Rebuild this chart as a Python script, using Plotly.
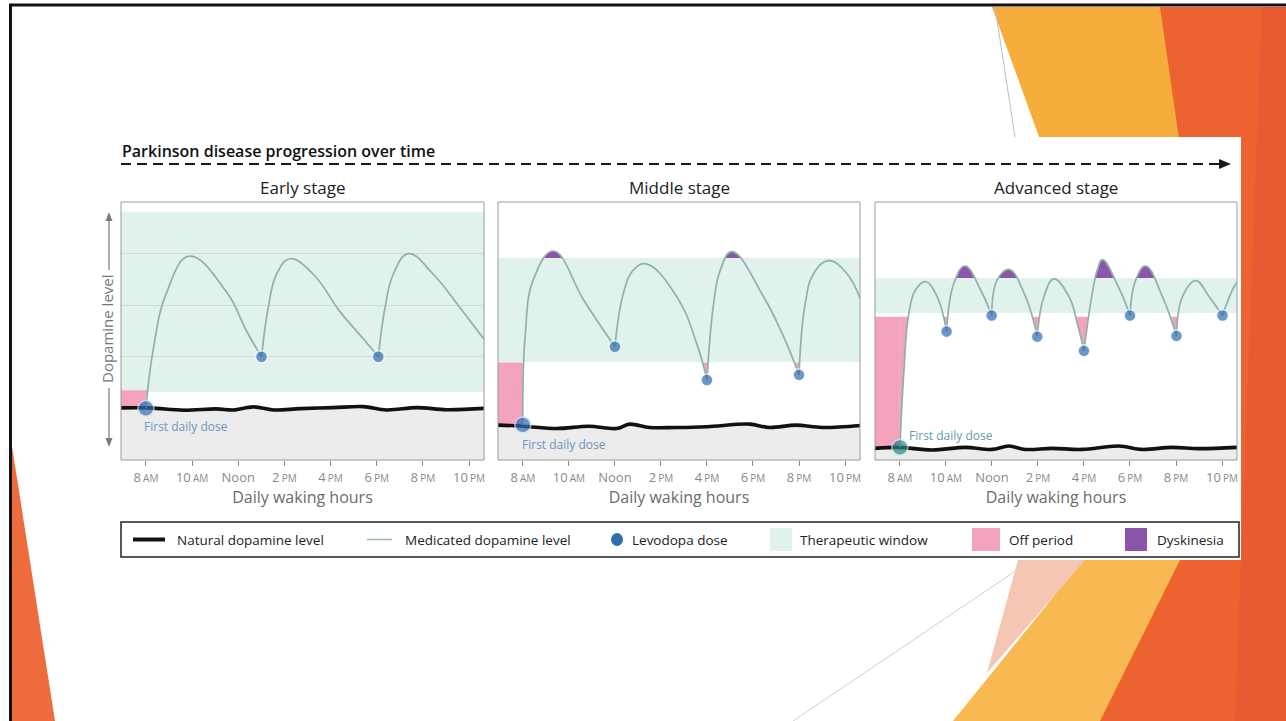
import plotly.graph_objects as go

W, H = 1286, 721

# ---------------- data ----------------
stage_titles = ["Early stage", "Middle stage", "Advanced stage"]
tick_hours = [8, 10, 12, 14, 16, 18, 20, 22]
tick_labels = ["8 AM", "10 AM", "Noon", "2 PM", "4 PM", "6 PM", "8 PM", "10 PM"]
hour_range = [6.92, 22.65]
level_range = [0, 100]
grid_levels = [20, 40, 60, 80]

window_low = [26.4, 38.0, 57.0]
window_high = [96.0, 78.3, 70.5]
off_threshold = [27.0, 37.8, 55.5]
dysk_threshold = [None, 78.3, 70.5]

# medicated dopamine level (segments between doses separated by None)
early_hours = [8.0, 8.32, 8.9, 9.88, 11.5, 12.36, 13.01, None,
               13.01, 13.3, 13.66, 14.24, 15.25, 16.41, 17.42, 18.07, None,
               18.07, 18.36, 18.72, 19.37, 20.45, 21.61, 22.65]
early_level = [20, 43, 65, 79, 65, 50, 40, None,
               40, 59, 72, 78, 72, 57.5, 47, 40, None,
               40, 59, 72, 80, 72, 59, 46.8]

middle_hours = [8.0, 8.1, 8.46, 9.33, 10.64, 11.5, 12.0, None,
                12.0, 12.37, 12.8, 13.36, 14.69, 15.56, 16.0, None,
                16.0, 16.29, 16.58, 17.08, 18.46, 19.33, 20.0, None,
                20.0, 20.27, 20.64, 21.29, 22.08, 22.65]
middle_level = [13.6, 48, 70, 81, 62, 50.4, 43.9, None,
                43.9, 64.6, 73.6, 76, 63.3, 45, 31, None,
                31, 60.7, 73.6, 80.8, 63.3, 47.8, 33, None,
                33, 60.7, 72.3, 77.3, 72.3, 62.6]

advanced_hours = [8.0, 8.18, 8.39, 8.68, 9.12, 9.62, 10.03, None,
                  10.03, 10.35, 10.83, 11.51, 11.99, None,
                  11.99, 12.23, 12.74, 13.46, 13.97, None,
                  13.97, 14.26, 14.7, 15.35, 15.71, 16.0, None,
                  16.0, 16.36, 16.58, 16.8, 17.5, 18.0, None,
                  18.0, 18.25, 18.68, 19.41, 20.02, None,
                  20.02, 20.28, 20.86, 21.44, 22.02, None,
                  22.02, 22.45, 22.65]
advanced_level = [4.9, 34.9, 56.8, 65.9, 69.1, 63.3, 49.8, None,
                  49.8, 68.5, 75.2, 65.9, 56, None,
                  56, 69.8, 73.9, 63.3, 47.8, None,
                  47.8, 63.3, 70.2, 63.3, 53, 42.3, None,
                  42.3, 64.6, 73.6, 77.7, 67, 56, None,
                  56, 69.8, 75.2, 63.3, 48.1, None,
                  48.1, 63.3, 69.5, 63.3, 56, None,
                  56, 65.9, 68.9]

# levodopa doses
early_dose_hours = [8.0, 13.01, 18.07]
early_dose_level = [20, 40, 40]
middle_dose_hours = [8.0, 12.0, 16.0, 20.0]
middle_dose_level = [13.6, 43.9, 31, 33]
advanced_dose_hours = [8.0, 10.03, 11.99, 13.97, 16.0, 18.0, 20.02, 22.02]
advanced_dose_level = [4.9, 49.8, 56, 47.8, 42.3, 56, 48.1, 56]

# natural dopamine level
early_nat_hours = [6.92, 8.17, 9.62, 11.06, 11.79, 12.65, 13.52, 14.68, 16.12, 17.42, 18.43, 19.73, 21.03, 22.65]
early_nat_level = [20.2, 20.2, 19.3, 19.8, 19.4, 20.6, 19.4, 19.9, 20.3, 20.7, 19.4, 20.3, 19.5, 20.0]
middle_nat_hours = [6.92, 8.03, 9.47, 10.86, 12.07, 12.64, 13.51, 14.67, 16.0, 17.84, 18.71, 19.86, 21.02, 22.65]
middle_nat_level = [13.5, 13.1, 12.2, 13.1, 12.2, 13.9, 12.6, 12.6, 12.9, 13.9, 12.6, 13.5, 12.6, 13.4]
advanced_nat_hours = [6.92, 7.96, 9.4, 10.85, 12.0, 12.73, 13.46, 14.61, 15.92, 17.51, 18.52, 19.83, 20.98, 22.65]
advanced_nat_level = [4.5, 4.9, 3.9, 4.9, 4.1, 5.4, 4.1, 4.5, 4.1, 5.4, 4.1, 4.9, 4.4, 4.9]

legend_labels = ["Natural dopamine level", "Medicated dopamine level", "Levodopa dose",
                 "Therapeutic window", "Off period", "Dyskinesia"]

# ---------------- styling ----------------
FONT = "Open Sans"
PINK = "#f3a3bb"
PURPLE = "#8a55aa"
WINDOW = "#e1f1ec"
GRAYFILL = "#ececec"
CURVE = "#8fb1ac"
DOSE = "#2f6cb2"
SMOOTH = 1.2


def px(x):
    return x / W


def py(y):
    return 1 - y / H


curves = [(early_hours, early_level), (middle_hours, middle_level), (advanced_hours, advanced_level)]
doses = [(early_dose_hours, early_dose_level), (middle_dose_hours, middle_dose_level),
         (advanced_dose_hours, advanced_dose_level)]
naturals = [(early_nat_hours, early_nat_level), (middle_nat_hours, middle_nat_level),
            (advanced_nat_hours, advanced_nat_level)]

panels_px = [(121, 484), (498, 860), (875, 1237)]
top_px, bot_px = 202, 460
yb, yt = py(bot_px), py(top_px)
ph = yt - yb

xnames = ["x", "x2", "x3"]
off_axes = ["y2", "y3", "y4"]
dys_axes = [None, "y5", "y6"]
top_axis = "y7"


def fmt_tick(lbl):
    if lbl.endswith("AM") or lbl.endswith("PM"):
        n, s = lbl.split(" ")
        return f"{n}\u2009<span style='font-size:10px'>{s}</span>"
    return lbl


fig = go.Figure()

for i in range(3):
    xn = xnames[i]
    hrs, lev = curves[i]
    dh, dl = doses[i]
    nh, nl = naturals[i]
    # off period: before first dose
    fig.add_trace(go.Scatter(
        x=[hour_range[0], dh[0], dh[0], hour_range[0]],
        y=[level_range[0], level_range[0], level_range[1], level_range[1]],
        mode="lines", fill="toself", fillcolor=PINK, line=dict(width=0),
        xaxis=xn, yaxis=off_axes[i], hoverinfo="skip", showlegend=False))
    # upper boundary for off fill
    fig.add_trace(go.Scatter(
        x=[dh[0], hour_range[1]], y=[level_range[1], level_range[1]],
        mode="lines", line=dict(width=0), xaxis=xn, yaxis=off_axes[i],
        hoverinfo="skip", showlegend=False))
    fig.add_trace(go.Scatter(
        x=hrs, y=lev, mode="lines", line=dict(width=0, shape="spline", smoothing=SMOOTH),
        fill="tonexty", fillcolor=PINK, connectgaps=False,
        xaxis=xn, yaxis=off_axes[i], hoverinfo="skip", showlegend=False))
    if dys_axes[i]:
        fig.add_trace(go.Scatter(
            x=hrs, y=lev, mode="lines", line=dict(width=0, shape="spline", smoothing=SMOOTH),
            fill="tozeroy", fillcolor=PURPLE, connectgaps=False,
            xaxis=xn, yaxis=dys_axes[i], hoverinfo="skip", showlegend=False))
    # natural level
    fig.add_trace(go.Scatter(
        x=nh, y=nl, mode="lines", line=dict(color="#111111", width=3.6, shape="spline"),
        fill="tozeroy", fillcolor=GRAYFILL, xaxis=xn, yaxis=top_axis,
        name=legend_labels[0], showlegend=False))
    # medicated level
    fig.add_trace(go.Scatter(
        x=hrs, y=lev, mode="lines", line=dict(color=CURVE, width=1.7, shape="spline", smoothing=SMOOTH),
        connectgaps=False, xaxis=xn, yaxis=top_axis, name=legend_labels[1], showlegend=False))
    # doses
    colors = [("#2b8587" if i == 2 else DOSE)] + [DOSE] * (len(dh) - 1)
    sizes = [16] + [12] * (len(dh) - 1)
    lcols = ["#cfe4ee"] + ["rgba(255,255,255,0.85)"] * (len(dh) - 1)
    fig.add_trace(go.Scatter(
        x=dh, y=dl, mode="markers",
        marker=dict(color=colors, size=sizes, line=dict(color=lcols, width=1.6)),
        xaxis=xn, yaxis=top_axis, name=legend_labels[2], showlegend=False))

layout = dict(
    width=W, height=H, margin=dict(l=0, r=0, t=0, b=0),
    paper_bgcolor="white", plot_bgcolor="rgba(0,0,0,0)",
    showlegend=False, font=dict(family=FONT, color="#333"),
)

for i in range(3):
    x0, x1 = panels_px[i]
    key = "xaxis" if i == 0 else f"xaxis{i + 1}"
    layout[key] = dict(
        domain=[px(x0), px(x1)], range=hour_range, anchor="y",
        tickvals=tick_hours, ticktext=[fmt_tick(t) for t in tick_labels],
        ticks="outside", ticklen=5, tickwidth=1, tickcolor="#8a8a8a",
        tickfont=dict(size=13, color="#8a8a8a", family=FONT),
        showgrid=False, zeroline=False, showline=False, fixedrange=True,
        title=dict(text="Daily waking hours", font=dict(size=16, color="#6b6b6b", family=FONT), standoff=6),
    )

layout["yaxis"] = dict(domain=[yb, yt], range=level_range, anchor="x", tickvals=grid_levels,
                       showticklabels=False, ticks="", showgrid=True, gridcolor="#d3dbd9",
                       gridwidth=1, zeroline=False, showline=False, fixedrange=True)
for i in range(3):
    thr = off_threshold[i]
    layout["yaxis" + off_axes[i][1:]] = dict(domain=[yb, yb + ph * thr / 100], range=[0, thr],
                                             anchor=xnames[i], visible=False, fixedrange=True)
    if dys_axes[i]:
        d = dysk_threshold[i]
        layout["yaxis" + dys_axes[i][1:]] = dict(domain=[yb + ph * d / 100, yt], range=[d, 100],
                                                 anchor=xnames[i], visible=False, fixedrange=True)
layout["yaxis7"] = dict(domain=[yb, yt], range=level_range, anchor="x", visible=False, fixedrange=True)


def path(pts):
    return "M " + " L ".join(f"{px(a):.5f},{py(b):.5f}" for a, b in pts) + " Z"


shapes = []
# slide decorations
shapes.append(dict(type="path", xref="paper", yref="paper", layer="below",
                   path=path([(1150, 7), (1286, 7), (1286, 721), (1080, 721)]),
                   fillcolor="#ec6230", line=dict(width=0)))
shapes.append(dict(type="path", xref="paper", yref="paper", layer="below",
                   path=path([(1262, 7), (1286, 7), (1286, 721), (1235, 721)]),
                   fillcolor="#e85a32", line=dict(width=0)))
shapes.append(dict(type="path", xref="paper", yref="paper", layer="below",
                   path=path([(992, 7), (1160, 7), (1195, 250), (1080, 250)]),
                   fillcolor="#f6ad3c", line=dict(width=0)))
shapes.append(dict(type="path", xref="paper", yref="paper", layer="below",
                   path=path([(1083, 560), (1180, 560), (1100, 721), (953, 721)]),
                   fillcolor="#f8b852", line=dict(width=0)))
shapes.append(dict(type="path", xref="paper", yref="paper", layer="below",
                   path=path([(1018, 560), (1085, 560), (987, 673)]),
                   fillcolor="#f6c6b5", line=dict(width=0)))
shapes.append(dict(type="line", xref="paper", yref="paper", layer="below",
                   x0=px(995), y0=py(7), x1=px(1015), y1=py(137), line=dict(color="#bdbdbd", width=1)))
shapes.append(dict(type="line", xref="paper", yref="paper", layer="below",
                   x0=px(1020), y0=py(568), x1=px(793), y1=py(721), line=dict(color="#cfcfcf", width=1)))
shapes.append(dict(type="path", xref="paper", yref="paper", layer="below",
                   path=path([(11, 440), (11, 721), (55, 721)]),
                   fillcolor="#ee6b3e", line=dict(width=0)))
shapes.append(dict(type="line", xref="paper", yref="paper", layer="below",
                   x0=px(9), y0=py(5), x1=px(1286), y1=py(5), line=dict(color="#111", width=3)))
shapes.append(dict(type="line", xref="paper", yref="paper", layer="below",
                   x0=px(10.5), y0=py(4), x1=px(10.5), y1=py(721), line=dict(color="#111", width=3)))
# chart white background
shapes.append(dict(type="rect", xref="paper", yref="paper", layer="below",
                   x0=px(100), y0=py(560), x1=px(1241), y1=py(137), fillcolor="white", line=dict(width=0)))

# therapeutic windows
for i in range(3):
    shapes.append(dict(type="rect", xref=xnames[i], yref="y", layer="below",
                       x0=hour_range[0], x1=hour_range[1], y0=window_low[i], y1=window_high[i],
                       fillcolor=WINDOW, line=dict(width=0)))
# panel borders
for x0, x1 in panels_px:
    shapes.append(dict(type="rect", xref="paper", yref="paper", layer="above",
                       x0=px(x0), x1=px(x1), y0=yb, y1=yt, line=dict(color="#9a9a9a", width=1)))

# header dashed arrow
shapes.append(dict(type="line", xref="paper", yref="paper", x0=px(121), y0=py(164), x1=px(1222), y1=py(164),
                   line=dict(color="#1a1a1a", width=2, dash="10px,6px")))
shapes.append(dict(type="path", xref="paper", yref="paper",
                   path=path([(1219, 159), (1231, 164), (1219, 169)]), fillcolor="#1a1a1a", line=dict(width=0)))

# dopamine level arrows
AX = "#7a7a7a"
shapes.append(dict(type="line", xref="paper", yref="paper", x0=px(109), y0=py(219), x1=px(109), y1=py(270),
                   line=dict(color=AX, width=1.2)))
shapes.append(dict(type="path", xref="paper", yref="paper", path=path([(105.5, 221), (109, 212), (112.5, 221)]),
                   fillcolor=AX, line=dict(width=0)))
shapes.append(dict(type="line", xref="paper", yref="paper", x0=px(109), y0=py(388), x1=px(109), y1=py(440),
                   line=dict(color=AX, width=1.2)))
shapes.append(dict(type="path", xref="paper", yref="paper", path=path([(105.5, 438), (109, 447), (112.5, 438)]),
                   fillcolor=AX, line=dict(width=0)))

# legend
LY = 539.5
shapes.append(dict(type="rect", xref="paper", yref="paper", x0=px(121), x1=px(1239), y0=py(557), y1=py(522),
                   line=dict(color="#222", width=1.5)))
shapes.append(dict(type="line", xref="paper", yref="paper", x0=px(133), x1=px(165), y0=py(LY), y1=py(LY),
                   line=dict(color="#111", width=4)))
shapes.append(dict(type="line", xref="paper", yref="paper", x0=px(367), x1=px(392), y0=py(LY), y1=py(LY),
                   line=dict(color="#9ab5b0", width=1.5)))
shapes.append(dict(type="circle", xref="paper", yref="paper", x0=px(611), x1=px(623), y0=py(546), y1=py(533),
                   fillcolor=DOSE, line=dict(width=0)))
shapes.append(dict(type="rect", xref="paper", yref="paper", x0=px(770), x1=px(792), y0=py(551), y1=py(528),
                   fillcolor=WINDOW, line=dict(width=0)))
shapes.append(dict(type="rect", xref="paper", yref="paper", x0=px(972), x1=px(1000), y0=py(551), y1=py(528),
                   fillcolor=PINK, line=dict(width=0)))
shapes.append(dict(type="rect", xref="paper", yref="paper", x0=px(1125), x1=px(1147), y0=py(551), y1=py(528),
                   fillcolor=PURPLE, line=dict(width=0)))
layout["shapes"] = shapes

ann = []
ann.append(dict(text="Parkinson disease progression over time", xref="paper", yref="paper",
                x=px(120), y=py(151), xanchor="left", yanchor="middle", showarrow=False,
                font=dict(size=16, color="#111", family=FONT, weight=600)))
for i in range(3):
    x0, x1 = panels_px[i]
    ann.append(dict(text=stage_titles[i], xref="paper", yref="paper", x=px((x0 + x1) / 2), y=py(187),
                    xanchor="center", yanchor="middle", showarrow=False,
                    font=dict(size=17, color="#222", family=FONT)))
ann.append(dict(text="Dopamine level", xref="paper", yref="paper", x=px(107), y=py(329), textangle=-90,
                xanchor="center", yanchor="middle", showarrow=False,
                font=dict(size=15, color="#777", family=FONT)))
first_pos = [(7.83, 12.8, "#6b95c2"), (7.88, 6.2, "#6b95c2"), (8.33, 9.4, "#5f9ea0")]
for i in range(3):
    fx, fy, fc = first_pos[i]
    ann.append(dict(text="First daily dose", xref=xnames[i], yref="y", x=fx, y=fy,
                    xanchor="left", yanchor="middle", showarrow=False,
                    font=dict(size=12, color=fc, family=FONT)))
leg_x = [175, 403, 630, 798, 1007, 1155]
for t, lx in zip(legend_labels, leg_x):
    ann.append(dict(text=t, xref="paper", yref="paper", x=px(lx), y=py(LY), xanchor="left", yanchor="middle",
                    showarrow=False, font=dict(size=13.5, color="#222", family=FONT)))
layout["annotations"] = ann

fig.update_layout(**layout)
fig.write_html("out.html", config={"displayModeBar": False},
               post_script="document.body.style.margin='0';document.body.style.overflow='hidden';")
